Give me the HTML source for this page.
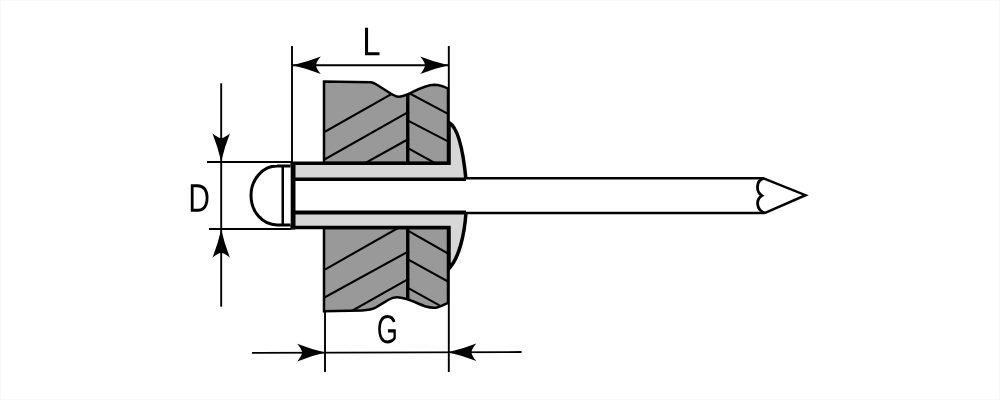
<!DOCTYPE html>
<html><head><meta charset="utf-8"><style>
html,body{margin:0;padding:0;background:#fff;}
svg{display:block;}
text{font-family:"Liberation Sans",sans-serif;fill:#000;}
</style></head><body>
<svg width="1000" height="400" viewBox="0 0 1000 400">
<defs>
<path id="arr" d="M0.5,0 Q-14,-3.3 -27.8,-8.8 Q-23.6,-4 -22.8,0 Q-23.6,4 -27.8,8.8 Q-14,3.3 0.5,0 Z" fill="#000"/>
<clipPath id="ct"><path d="M324,163 L324,81.5 L371,82.2 Q373.5,82.6 376,84.2 L387.5,91.5 C391.5,94.3 395,96.7 399,96.8 C402,96.8 405,95.5 408,94.2 C414,91.5 424,85 434.5,84.7 C440,84.7 444,86.5 448,88.5 L448,163 Z"/></clipPath>
<clipPath id="cb"><path d="M324,228 L324,311.2 L362,310.4 C368,310.2 372,309.6 376,307.4 L389,299.5 C391.5,297.8 394,297.2 397,297.2 C401,297.2 404,298.3 408,299.5 C414,301.5 420,304.5 426,306.5 C430,307.7 434,307.9 437,307.4 C441,306.6 444.5,304.5 448,302.8 L448,228 Z"/></clipPath>
</defs>
<rect width="1000" height="400" fill="#fff"/>
<rect x="0.5" y="0.5" width="999" height="399" fill="none" stroke="#f9f9f9" stroke-width="1"/>
<!-- dimension lines -->
<g stroke="#000" stroke-width="1.9" fill="none">
<line x1="292" y1="46" x2="292" y2="162"/>
<line x1="448.8" y1="46" x2="448.8" y2="372"/>
<line x1="292" y1="65.2" x2="448.8" y2="65.2"/>
<line x1="221.2" y1="83.3" x2="221.2" y2="306.7"/>
<line x1="207" y1="162" x2="291" y2="162"/>
<line x1="209" y1="229" x2="291" y2="229"/>
<line x1="325" y1="311" x2="325" y2="372"/>
<line x1="252" y1="352.85" x2="521.6" y2="352.05"/>
</g>
<use href="#arr" transform="translate(293,65.2) rotate(180)"/>
<use href="#arr" transform="translate(448,65.2)"/>
<use href="#arr" transform="translate(221.2,161) rotate(90)"/>
<use href="#arr" transform="translate(221.2,230) rotate(-90)"/>
<use href="#arr" transform="translate(325,352.6)"/>
<use href="#arr" transform="translate(448.5,352.2) rotate(180)"/>
<!-- blocks -->
<path d="M324,163 L324,81.5 L371,82.2 Q373.5,82.6 376,84.2 L387.5,91.5 C391.5,94.3 395,96.7 399,96.8 C402,96.8 405,95.5 408,94.2 C414,91.5 424,85 434.5,84.7 C440,84.7 444,86.5 448,88.5 L448,163 Z" fill="#999" stroke="#000" stroke-width="2.5"/>
<path d="M324,228 L324,311.2 L362,310.4 C368,310.2 372,309.6 376,307.4 L389,299.5 C391.5,297.8 394,297.2 397,297.2 C401,297.2 404,298.3 408,299.5 C414,301.5 420,304.5 426,306.5 C430,307.7 434,307.9 437,307.4 C441,306.6 444.5,304.5 448,302.8 L448,228 Z" fill="#999" stroke="#000" stroke-width="2.5"/>
<g stroke="#000" stroke-width="2.1" clip-path="url(#ct)">
<line x1="322" y1="133.31" x2="409" y2="84.16"/>
<line x1="322" y1="160.81" x2="409" y2="111.66"/>
<line x1="340" y1="177.04" x2="409" y2="138.78"/>
<line x1="407" y1="92.00" x2="450" y2="114.92"/>
<line x1="407" y1="120.06" x2="450" y2="142.42"/>
<line x1="407" y1="147.65" x2="450" y2="171.30"/>
</g>
<g stroke="#000" stroke-width="2.1" clip-path="url(#cb)">
<line x1="322" y1="271.22" x2="409" y2="221.80"/>
<line x1="322" y1="298.87" x2="409" y2="251.11"/>
<line x1="330" y1="323.22" x2="409" y2="278.59"/>
<line x1="407" y1="230.12" x2="450" y2="254.63"/>
<line x1="407" y1="258.86" x2="450" y2="282.63"/>
<line x1="407" y1="287.33" x2="450" y2="311.19"/>
</g>
<g stroke="#000" stroke-width="3.4">
<line x1="407.75" y1="94" x2="407.75" y2="163"/>
<line x1="407.75" y1="228" x2="407.75" y2="300"/>
</g>
<!-- sleeve -->
<path d="M292.5,163.25 H449 V122.5 C457,127 463,148 466,180 L466,212.5 C464.5,235 459,258 449,268.5 V227.5 H292.5 Z" fill="#d7d7d7" stroke="#000" stroke-width="3.5"/>
<!-- mandrel -->
<rect x="294.5" y="179" width="470" height="33.5" fill="#fff"/>
<g stroke="#000">
<line x1="294.5" y1="179.3" x2="466" y2="179.3" stroke-width="3.6"/>
<line x1="294.5" y1="212.5" x2="466" y2="212.5" stroke-width="4"/>
<line x1="466" y1="178.3" x2="764" y2="178.3" stroke-width="2.5"/>
<line x1="466" y1="213.1" x2="764" y2="213.1" stroke-width="2.5"/>
<line x1="293" y1="162" x2="293" y2="229.5" stroke-width="5"/>
</g>
<path d="M763.6,178.3 L805.5,195.2 L764.5,213.1" fill="#fff" stroke="#000" stroke-width="2.5" stroke-linejoin="miter"/>
<path d="M763.6,178.3 C755.5,181 756,192 761.9,195.6 C756,199 755.5,210 765,213.1" fill="none" stroke="#000" stroke-width="2.8"/>
<!-- dome -->
<path d="M290.5,166 C286,166.3 281,165.6 277,166 A26 29.5 0 0 0 277,225 C282,224.8 286,225.2 290.5,225" fill="#fff" stroke="#000" stroke-width="3"/>
<line x1="282.75" y1="166" x2="282.75" y2="224.5" stroke="#000" stroke-width="2.5"/>
<!-- text -->
<path transform="matrix(0.01606,0,0,-0.01945,362.3,55.2)" d="M168 0V1409H359V156H1071V0Z" fill="#000"/>
<path transform="matrix(0.01459,0,0,-0.01959,188.35,211.8)" d="M1381 719Q1381 501 1296.0 337.5Q1211 174 1055.0 87.0Q899 0 695 0H168V1409H634Q992 1409 1186.5 1229.5Q1381 1050 1381 719ZM1189 719Q1189 981 1045.5 1118.5Q902 1256 630 1256H359V153H673Q828 153 945.5 221.0Q1063 289 1126.0 417.0Q1189 545 1189 719Z" fill="#000"/>
<path transform="matrix(0.01316,0,0,-0.01966,376.84,343.1)" d="M103 711Q103 1054 287.0 1242.0Q471 1430 804 1430Q1038 1430 1184.0 1351.0Q1330 1272 1409 1098L1227 1044Q1167 1164 1061.5 1219.0Q956 1274 799 1274Q555 1274 426.0 1126.5Q297 979 297 711Q297 444 434.0 289.5Q571 135 813 135Q951 135 1070.5 177.0Q1190 219 1264 291V545H843V705H1440V219Q1328 105 1165.5 42.5Q1003 -20 813 -20Q592 -20 432.0 68.0Q272 156 187.5 321.5Q103 487 103 711Z" fill="#000"/>
</svg>
</body></html>
